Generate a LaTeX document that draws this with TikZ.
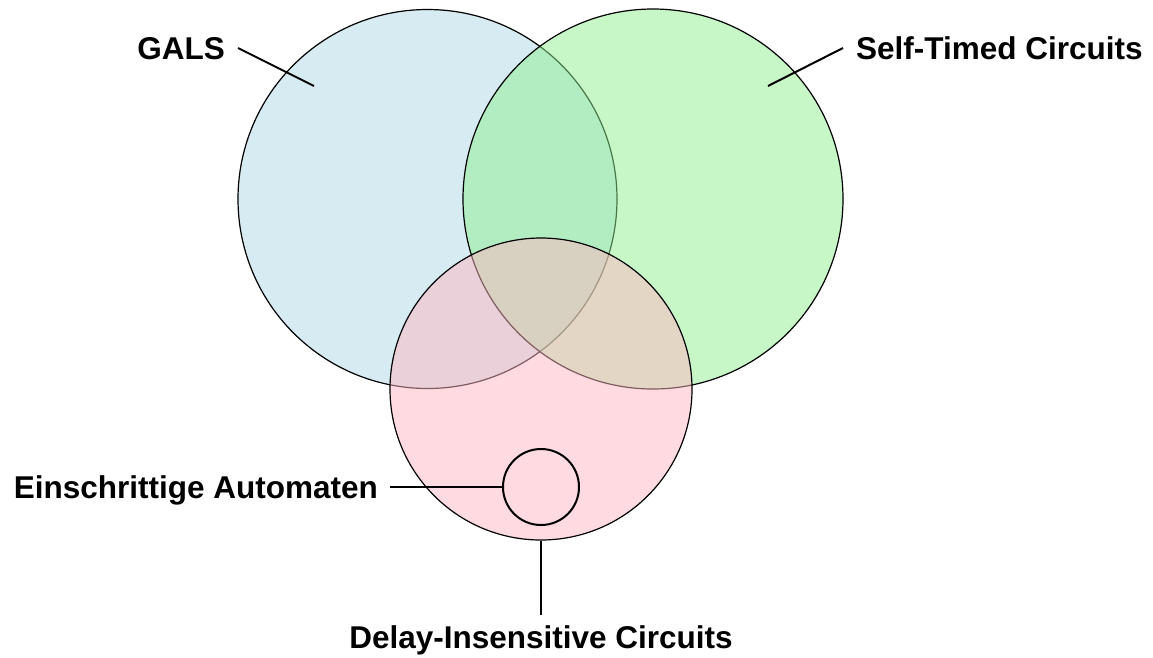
\documentclass[tikz,border=0pt]{standalone}
\usepackage{fontspec}
\setmainfont{Liberation Sans}
\definecolor{galsblue}{RGB}{173,216,230}
\definecolor{stgreen}{RGB}{144,238,144}
\definecolor{dipink}{RGB}{255,182,193}

\begin{document}
\begin{tikzpicture}[x=1pt,y=-1pt,
    set/.style={circle,draw,line width=1.2pt,fill opacity=0.5,inner sep=0pt},
    tag/.style={font=\fontsize{31.5}{38}\selectfont\bfseries,inner xsep=13pt,inner ysep=10pt,text depth=0pt},
    pin/.style={line width=2pt}]
  \useasboundingbox (0,0) rectangle (1153,657);

  \node [set,fill=galsblue,minimum size=379pt] (gals) at (427.5,199) {};
  \node [set,fill=stgreen,minimum size=380pt] (st) at (653,199) {};
  \node [set,fill=dipink,minimum size=302pt] (di) at (541,389) {};
  \node [circle,draw,line width=2pt,minimum size=76pt] (esa) at (541,487) {};

  \coordinate (galsin) at (314,86);
  \coordinate (stin) at (768,86);

  \node [tag,anchor=east] (lgals) at (238,48) {GALS};
  \node [tag,anchor=west] (lst) at (843,48) {Self-Timed Circuits};
  \node [tag,anchor=east,inner xsep=12pt] (lesa) at (390,487) {Einschrittige Automaten};
  \node [tag,anchor=north] (ldi) at (541,615) {Delay-Insensitive Circuits};

  \draw [pin] (lgals.east) -- (galsin);
  \draw [pin] (lst.west) -- (stin);
  \draw [pin] (lesa.east) -- (esa.west);
  \draw [pin] (di.south) -- (ldi.north);
\end{tikzpicture}
\end{document}
